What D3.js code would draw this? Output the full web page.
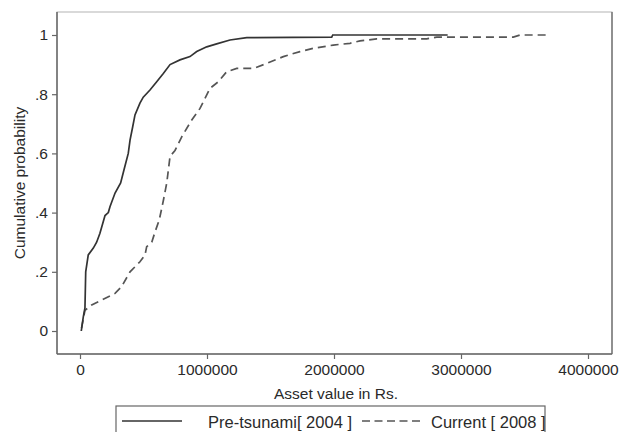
<!DOCTYPE html>
<html>
<head>
<meta charset="utf-8">
<script src="https://cdn.jsdelivr.net/npm/d3@7"></script>
<style>
  body { margin: 0; background: #fff; }
  svg { display: block; font-family: "Liberation Sans", Arial, sans-serif; }
</style>
</head>
<body>
<div class="canvas"></div>
<script>
var preX = [10000, 26000, 39000, 45000, 65000, 105000, 131000, 157000, 197000, 223000, 236000, 276000,
    320000, 346000, 380000, 394000, 415000, 433000, 472000, 498000, 551000, 604000, 656000, 709000,
    787000, 866000, 919000, 998000, 1076000, 1181000, 1313000, 1982000, 1990000, 2895000];
var preP = [0, 0.048, 0.078, 0.20, 0.257, 0.28, 0.30, 0.33, 0.39, 0.40, 0.42, 0.466,
    0.50, 0.544, 0.60, 0.645, 0.69, 0.73, 0.77, 0.79, 0.814, 0.842, 0.87, 0.90,
    0.916, 0.927, 0.944, 0.96, 0.97, 0.983, 0.991, 0.993, 1.0, 1.0];

var curX = [12000, 39000, 92000, 183000, 276000, 328000, 394000, 472000, 512000, 525000, 565000, 591000,
    624000, 656000, 683000, 709000, 748000, 801000, 880000, 945000, 1024000, 1089000, 1155000, 1234000,
    1365000, 1470000, 1601000, 1732000, 1837000, 1994000, 2126000, 2205000, 2336000, 2730000, 2809000,
    3412000, 3465000, 3687000];
var curP = [0.01, 0.07, 0.088, 0.107, 0.127, 0.15, 0.20, 0.234, 0.257, 0.285, 0.30, 0.335,
    0.375, 0.44, 0.50, 0.59, 0.61, 0.656, 0.713, 0.752, 0.82, 0.842, 0.876, 0.887,
    0.887, 0.904, 0.927, 0.944, 0.955, 0.966, 0.972, 0.98, 0.987, 0.987, 0.993,
    0.993, 1.0, 1.0];

var xTicks = [0, 1000000, 2000000, 3000000, 4000000];
var yTicks = [0, 0.2, 0.4, 0.6, 0.8, 1];
var legendLabels = ["Pre-tsunami[ 2004 ]", "Current [ 2008 ]"];

var width = 621, height = 432;
var svg = d3.select(".canvas").append("svg")
    .attr("width", width)
    .attr("height", height);

var x = d3.scaleLinear().domain([0, 4000000]).range([80, 588]);
var y = d3.scaleLinear().domain([0, 1]).range([331, 35]);

// plot region outline
svg.append("rect")
    .attr("x", 57).attr("y", 12)
    .attr("width", 555).attr("height", 342)
    .attr("fill", "none")
    .attr("stroke", "#b4b4b4")
    .attr("stroke-width", 1);
svg.append("line").attr("x1", 612).attr("x2", 612).attr("y1", 12).attr("y2", 354)
    .attr("stroke", "#777").attr("stroke-width", 1.5);

function fmtY(d) {
    if (d === 0) return "0";
    if (d === 1) return "1";
    return d3.format(".1f")(d).replace(/^0/, "");
}

var yAxis = svg.append("g")
    .attr("transform", "translate(57,0)")
    .call(d3.axisLeft(y).tickValues(yTicks).tickFormat(fmtY).tickSize(5).tickSizeOuter(0));
yAxis.select(".domain").attr("d", "M0,12V354");

var xAxis = svg.append("g")
    .attr("transform", "translate(0,354)")
    .call(d3.axisBottom(x).tickValues(xTicks).tickFormat(d3.format("d")).tickSize(5).tickSizeOuter(0));
xAxis.select(".domain").attr("d", "M57,0H612");

svg.selectAll(".domain").attr("stroke", "#666").attr("stroke-width", 1.5);
svg.selectAll(".tick line").attr("stroke", "#666").attr("stroke-width", 1.2);
svg.selectAll(".tick text")
    .attr("fill", "#2a2a2a")
    .style("font-size", "15.5px")
    .style("font-family", "Liberation Sans, Arial, sans-serif");
yAxis.selectAll(".tick text").attr("x", -9);
xAxis.selectAll(".tick text").attr("y", 10);

// axis titles
svg.append("text")
    .attr("x", 336).attr("y", 399)
    .attr("text-anchor", "middle")
    .attr("fill", "#2a2a2a")
    .style("font-size", "15.5px")
    .text("Asset value in Rs.");

svg.append("text")
    .attr("transform", "translate(25,183) rotate(-90)")
    .attr("text-anchor", "middle")
    .attr("fill", "#2a2a2a")
    .style("font-size", "15.5px")
    .text("Cumulative probability");

// curves
var line = d3.line()
    .x(d => x(d[0]))
    .y(d => y(d[1]));

var preData = d3.zip(preX, preP);
var curData = d3.zip(curX, curP);

svg.append("path")
    .datum(curData)
    .attr("d", line)
    .attr("fill", "none")
    .attr("stroke", "#555")
    .attr("stroke-width", 1.7)
    .attr("stroke-dasharray", "8,5");

svg.append("path")
    .datum(preData)
    .attr("d", line)
    .attr("fill", "none")
    .attr("stroke", "#333")
    .attr("stroke-width", 1.7);

// legend
var legend = svg.append("g");
legend.append("rect")
    .attr("x", 116).attr("y", 406)
    .attr("width", 429).attr("height", 34)
    .attr("fill", "#fff")
    .attr("stroke", "#666")
    .attr("stroke-width", 1.2);
legend.append("line")
    .attr("x1", 122).attr("x2", 182).attr("y1", 421).attr("y2", 421)
    .attr("stroke", "#333").attr("stroke-width", 1.7);
legend.append("text")
    .attr("x", 208).attr("y", 428)
    .attr("fill", "#2a2a2a")
    .style("font-size", "16.5px")
    .text(legendLabels[0]);
legend.append("line")
    .attr("x1", 362).attr("x2", 421).attr("y1", 421).attr("y2", 421)
    .attr("stroke", "#555").attr("stroke-width", 1.7)
    .attr("stroke-dasharray", "8,4.5");
legend.append("text")
    .attr("x", 431).attr("y", 428)
    .attr("fill", "#2a2a2a")
    .style("font-size", "16.5px")
    .text(legendLabels[1]);
</script>
</body>
</html>
